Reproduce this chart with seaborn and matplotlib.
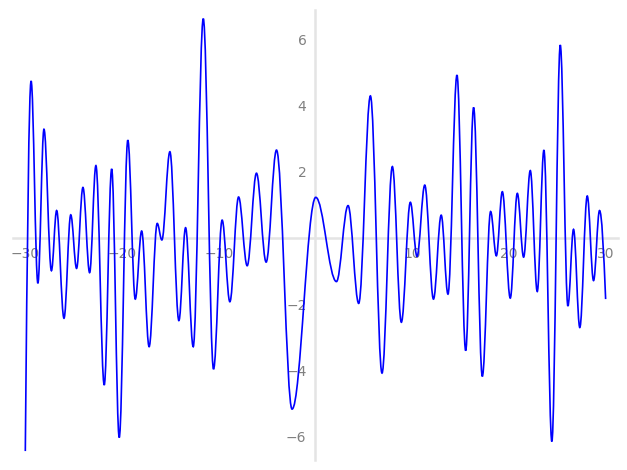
import matplotlib
matplotlib.use("Agg")
import matplotlib.pyplot as plt
from matplotlib.path import Path
from matplotlib.patches import PathPatch
from matplotlib.ticker import MultipleLocator, FuncFormatter
import seaborn as sns

# Turning points of the curve (start, extrema..., end)
turn_x = [-30.0, -29.4, -28.7, -28.07, -27.3, -26.76, -26.0, -25.3, -24.7, -24.04,
          -23.35, -22.7, -21.84, -21.07, -20.29, -19.4, -18.63, -17.97, -17.2, -16.36,
          -15.88, -15.05, -14.12, -13.43, -12.64, -11.6, -10.54, -9.65, -8.85, -7.95,
          -7.06, -6.1, -5.1, -4.03, -2.42, 0.03, 2.17, 3.37, 4.47, 5.68,
          6.88, 7.95, 8.88, 9.81, 10.5, 11.3, 12.2, 13.0, 13.7, 14.63,
          15.53, 16.35, 17.25, 18.11, 18.7, 19.32, 20.14, 20.87, 21.52, 22.21,
          22.93, 23.62, 24.44, 25.31, 26.1, 26.68, 27.33, 28.1, 28.75, 29.37, 30.0]
turn_y = [-6.45, 4.75, -1.37, 3.29, -0.99, 0.83, -2.43, 0.70, -0.92, 1.53,
          -1.05, 2.19, -4.45, 2.09, -6.04, 2.96, -1.85, 0.21, -3.29, 0.44,
          -0.06, 2.61, -2.50, 0.31, -3.29, 6.64, -3.97, 0.54, -1.93, 1.24,
          -0.84, 1.96, -0.73, 2.66, -5.18, 1.23, -1.32, 0.98, -1.98, 4.30,
          -4.09, 2.16, -2.55, 1.08, -0.56, 1.60, -1.85, 0.69, -1.70, 4.93,
          -3.41, 3.95, -4.19, 0.80, -0.54, 1.40, -1.82, 1.35, -0.58, 2.04,
          -1.62, 2.66, -6.16, 5.84, -2.06, 0.26, -2.71, 1.27, -1.29, 0.83, -1.85]

x_major = [-30, -20, -10, 10, 20, 30]
y_major = [-6, -4, -2, 2, 4, 6]

sns.set_style("white")
plt.rcParams["font.family"] = ["DejaVu Sans"]

fig = plt.figure(figsize=(6.27, 4.70), dpi=100)
ax = fig.add_axes([0.0203, 0.0213, 0.9649, 0.9574])

# smooth curve: cubic segments with flat tangents at each extremum
k = 0.364
verts = [(turn_x[0], turn_y[0])]
codes = [Path.MOVETO]
n = len(turn_x)
for i in range(n - 1):
    x0, y0 = turn_x[i], turn_y[i]
    x1, y1 = turn_x[i + 1], turn_y[i + 1]
    L = x1 - x0
    if i == 0:
        c1 = (x0 + L / 3, y0 + (y1 - y0) * 0.55)
    else:
        c1 = (x0 + k * L, y0)
    if i == n - 2:
        c2 = (x1 - L / 3, y1 + (y0 - y1) * 0.55)
    else:
        c2 = (x1 - k * L, y1)
    verts += [c1, c2, (x1, y1)]
    codes += [Path.CURVE4] * 3
ax.add_patch(PathPatch(Path(verts, codes), facecolor="none", edgecolor="blue",
                       linewidth=1.2, zorder=3))

ax.set_xlim(-31.3, 31.25)
ax.set_ylim(-6.72, 6.9)

# axes through the origin, Sage-like
for side in ["top", "right"]:
    ax.spines[side].set_visible(False)
ax.spines["left"].set_position(("data", 0))
ax.spines["bottom"].set_position(("data", 0))
for side in ["left", "bottom"]:
    ax.spines[side].set_color("#e4e4e4")
    ax.spines[side].set_linewidth(1.8)

ax.xaxis.set_major_locator(plt.FixedLocator(x_major))
ax.yaxis.set_major_locator(plt.FixedLocator(y_major))
ax.xaxis.set_minor_locator(MultipleLocator(2))
ax.yaxis.set_minor_locator(MultipleLocator(0.5))
fmt = FuncFormatter(lambda v, p: f"{v:g}".replace("-", "\u2212"))
ax.xaxis.set_major_formatter(fmt)
ax.yaxis.set_major_formatter(fmt)
ax.tick_params(which="major", length=3.5, width=0.8, color="#888888",
               labelcolor="#808080", labelsize=10, direction="out", pad=3)
ax.tick_params(which="minor", length=2.5, width=0.7, color="#888888", direction="out")
ax.set_facecolor("white")

plt.savefig("out.png", dpi=100)
plt.close()
